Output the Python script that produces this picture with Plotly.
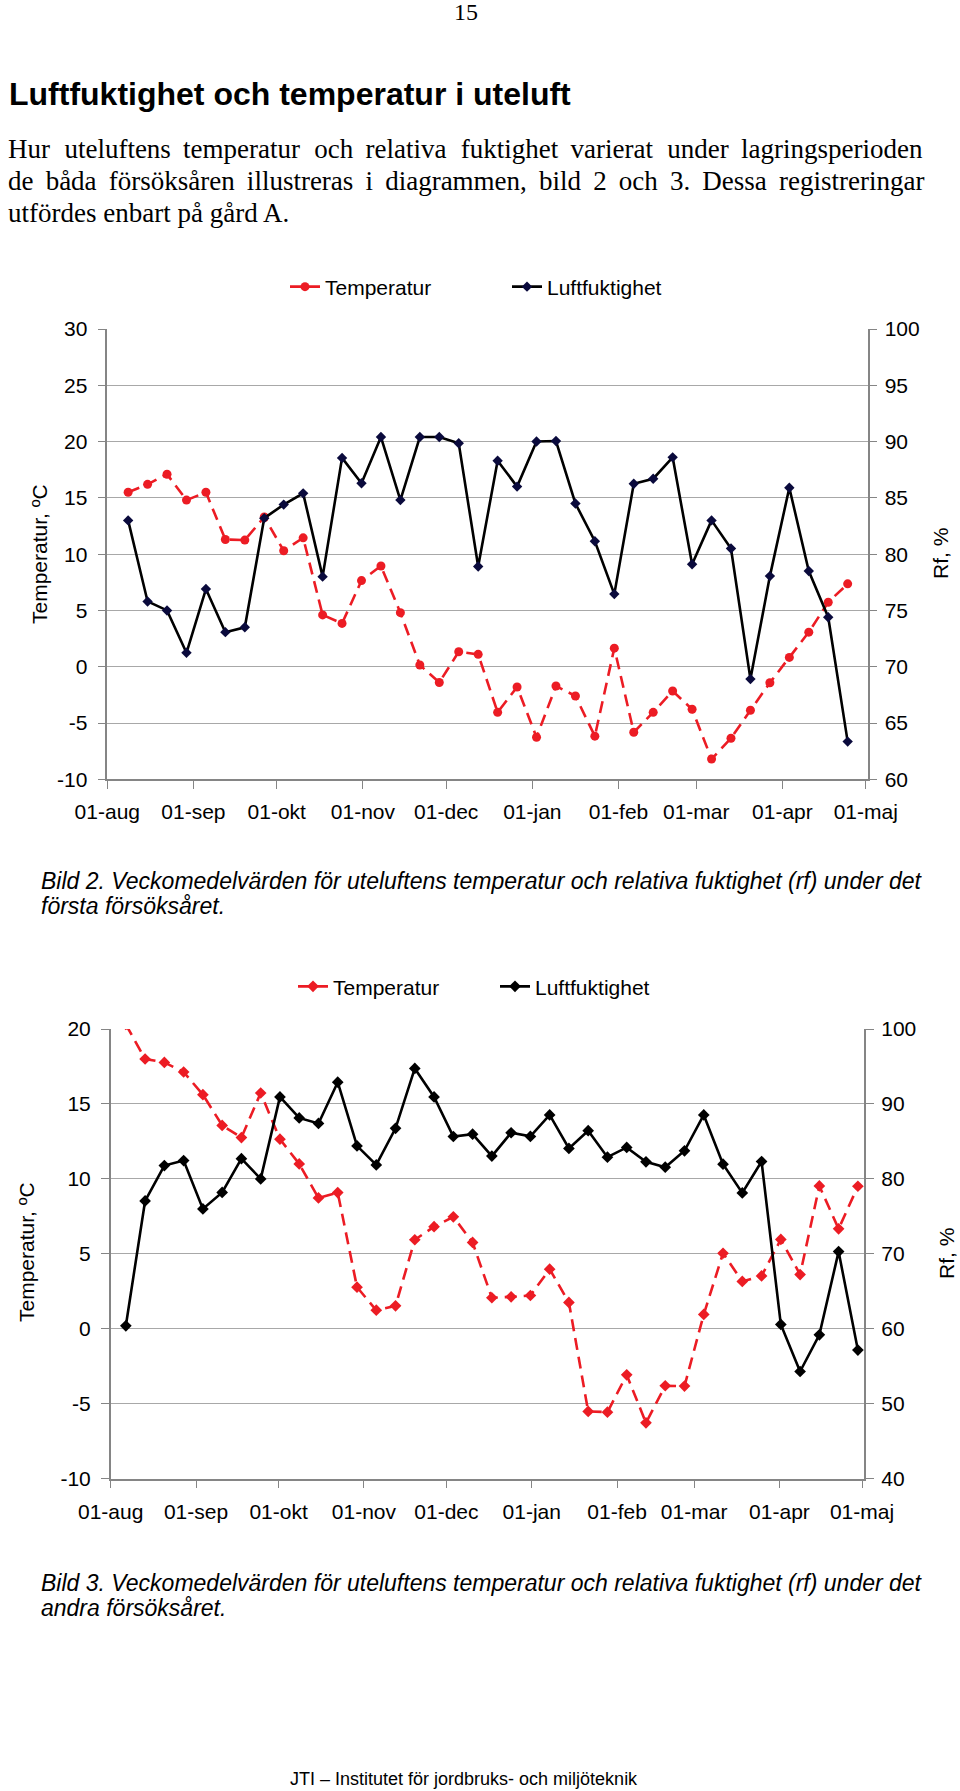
import pandas as pd
import plotly.graph_objects as go

# ---------------- data ----------------
month_labels = ["01-aug", "01-sep", "01-okt", "01-nov", "01-dec",
                "01-jan", "01-feb", "01-mar", "01-apr", "01-maj"]

# Bild 2 (first season) weekly means
start1 = "2005-08-08 12:00"
temp1 = [15.5, 16.2, 17.1, 14.8, 15.5, 11.3, 11.25, 13.3, 10.3, 11.45,
         4.6, 3.85, 7.65, 8.95, 4.8, 0.15, -1.4, 1.33, 1.1, -4.05,
         -1.8, -6.26, -1.71, -2.6, -6.17, 1.65, -5.82, -4.05, -2.16, -3.78,
         -8.2, -6.35, -3.87, -1.42, 0.83, 3.07, 5.73, 7.36]
rh1 = [83.0, 75.8, 75.0, 71.24, 76.9, 73.07, 73.5, 83.2, 84.4, 85.4,
       78.0, 88.55, 86.3, 90.4, 84.8, 90.4, 90.4, 89.85, 78.9, 88.3,
       86.0, 90.0, 90.05, 84.5, 81.15, 76.45, 86.25, 86.7, 88.6, 79.1,
       83.0, 80.5, 68.9, 78.05, 85.9, 78.5, 74.4, 63.35]
temp1_ticks = [-10, -5, 0, 5, 10, 15, 20, 25, 30]
temp1_labels = ["-10", "-5", "0", "5", "10", "15", "20", "25", "30"]
rh1_ticks = [60, 65, 70, 75, 80, 85, 90, 95, 100]

# Bild 3 (second season) weekly means
start2 = "2006-08-06 12:00"
temp2 = [20.3, 18.0, 17.77, 17.13, 15.62, 13.57, 12.76, 15.73, 12.65, 11.0,
         8.73, 9.09, 2.78, 1.24, 1.53, 5.94, 6.81, 7.47, 5.76, 2.07,
         2.13, 2.22, 3.98, 1.76, -5.51, -5.56, -3.07, -6.27, -3.8, -3.82,
         0.96, 5.04, 3.16, 3.53, 5.96, 3.62, 9.53, 6.67, 9.51]
rh2 = [60.4, 77.06, 81.78, 82.45, 76.0, 78.2, 82.7, 80.0, 90.94, 88.13,
       87.4, 92.9, 84.4, 81.87, 86.75, 94.74, 90.94, 85.66, 85.97, 83.04,
       86.16, 85.67, 88.53, 84.06, 86.43, 82.9, 84.2, 82.28, 81.56, 83.75,
       88.53, 81.96, 78.13, 82.32, 60.58, 54.3, 59.2, 70.3, 57.16]
temp2_ticks = [-10, -5, 0, 5, 10, 15, 20]
temp2_labels = ["-10", "-5", "0", "5", "10", "15", "20"]
rh2_ticks = [40, 50, 60, 70, 80, 90, 100]

dates1 = pd.date_range(start1, periods=len(temp1), freq="7D")
dates2 = pd.date_range(start2, periods=len(temp2), freq="7D")
ticks1 = pd.date_range("2005-08-01", "2006-05-01", freq="MS")
ticks2 = pd.date_range("2006-08-01", "2007-05-01", freq="MS")

# ---------------- style ----------------
W, H = 960, 1791
RED = "#ec1c24"
NAVY = "#0a0a3c"
GRID = "#a8a8a8"
AX = "#858585"
SANS = "Liberation Sans, Arial, sans-serif"
SERIF = "Liberation Serif, Times New Roman, serif"
TS = "\u2009"  # thin space used to imitate justified text
HS = "\u200a"  # hair space


def px(x):
    return x / W


def py(y):
    return 1 - y / H


fig = go.Figure()

fig.add_trace(go.Scatter(
    x=dates1, y=temp1, name="Temperatur", mode="lines+markers",
    line=dict(color=RED, width=2.6, dash="12px,7px"),
    marker=dict(symbol="circle", size=9, color=RED),
    xaxis="x", yaxis="y", legend="legend"))
fig.add_trace(go.Scatter(
    x=dates1, y=rh1, name="Luftfuktighet", mode="lines+markers",
    line=dict(color="black", width=2.6),
    marker=dict(symbol="diamond", size=8, color=NAVY),
    xaxis="x", yaxis="y2", legend="legend"))

fig.add_trace(go.Scatter(
    x=dates2, y=temp2, name="Temperatur", mode="lines+markers",
    line=dict(color=RED, width=2.6, dash="12px,7px"),
    marker=dict(symbol="diamond", size=9, color=RED),
    xaxis="x2", yaxis="y3", legend="legend2"))
fig.add_trace(go.Scatter(
    x=dates2, y=rh2, name="Luftfuktighet", mode="lines+markers",
    line=dict(color="black", width=2.6),
    marker=dict(symbol="diamond", size=9, color="black"),
    xaxis="x2", yaxis="y4", legend="legend2"))

tickfont = dict(family=SANS, size=21, color="black")

xcommon = dict(type="date", showgrid=False, showline=True, linecolor=AX, linewidth=1.5,
               ticks="outside", ticklen=8, tickcolor=AX, tickwidth=1.2,
               tickfont=tickfont, ticklabelstandoff=5, zeroline=False,
               automargin=False, fixedrange=True)
ycommon = dict(showline=True, linecolor=AX, linewidth=1.5, ticks="outside", ticklen=8,
               tickcolor=AX, tickwidth=1.2, tickfont=tickfont, zeroline=False,
               automargin=False, fixedrange=True, tickmode="array")

fig.update_layout(
    template="none",
    width=W, height=H, margin=dict(l=0, r=0, t=0, b=0, pad=0, autoexpand=False),
    paper_bgcolor="white", plot_bgcolor="white",
    font=dict(family=SANS, color="black"),
    xaxis=dict(domain=[px(107.3), px(867.7)], anchor="y",
               range=["2005-08-01", "2006-05-01 17:00"],
               tickvals=list(ticks1), ticktext=month_labels, **xcommon),
    yaxis=dict(domain=[py(779.3), py(329)], anchor="x", range=[-10, 30],
               tickvals=temp1_ticks, ticktext=temp1_labels, ticklabelstandoff=6,
               showgrid=True, gridcolor=GRID, gridwidth=1.2, **ycommon),
    yaxis2=dict(overlaying="y", side="right", anchor="x", range=[60, 100],
                tickvals=rh1_ticks, ticklabelstandoff=3, showgrid=False, **ycommon),
    xaxis2=dict(domain=[px(110.7), px(864.3)], anchor="y3",
                range=["2006-08-01", "2007-05-01 20:00"],
                tickvals=list(ticks2), ticktext=month_labels, **xcommon),
    yaxis3=dict(domain=[py(1478.7), py(1029)], anchor="x2", range=[-10, 20],
                tickvals=temp2_ticks, ticktext=temp2_labels, ticklabelstandoff=6,
                showgrid=True, gridcolor=GRID, gridwidth=1.2, **ycommon),
    yaxis4=dict(overlaying="y3", side="right", anchor="x2", range=[40, 100],
                tickvals=rh2_ticks, ticklabelstandoff=3, showgrid=False, **ycommon),
    legend=dict(orientation="h", x=px(285), xanchor="left", y=py(287), yanchor="middle",
                entrywidth=177, entrywidthmode="pixels", font=dict(family=SANS, size=21),
                bgcolor="rgba(0,0,0,0)", borderwidth=0),
    legend2=dict(orientation="h", x=px(293), xanchor="left", y=py(986.7), yanchor="middle",
                 entrywidth=157, entrywidthmode="pixels", font=dict(family=SANS, size=21),
                 bgcolor="rgba(0,0,0,0)", borderwidth=0),
)

ann = []


def text(t, x, y, size, family=SANS, xanchor="left", angle=0, weight="normal", style="normal"):
    ann.append(dict(text=t, x=px(x), y=py(y), xref="paper", yref="paper",
                    xanchor=xanchor, yanchor="middle", showarrow=False, textangle=angle,
                    font=dict(family=family, size=size, color="black", weight=weight, style=style)))


def justify(s, extra=False):
    words = s.split(" ")
    out = words[0]
    for i, w in enumerate(words[1:]):
        gap = " " + TS + (HS if (extra and i % 2 == 0) else "")
        out += gap + w
    return out


text("15", 466, 12, 24, family=SERIF, xanchor="center")
text("Luftfuktighet och temperatur i uteluft", 7, 94, 32, weight="bold")
text(justify("Hur uteluftens temperatur och relativa fuktighet varierat under lagringsperioden", True),
     6, 148.6, 27, family=SERIF)
text(justify("de båda försöksåren illustreras i diagrammen, bild 2 och 3. Dessa registreringar"),
     6, 180.6, 27, family=SERIF)
text("utfördes enbart på gård A.", 6, 212.6, 27, family=SERIF)

text("Temperatur, ºC", 40, 554, 21, xanchor="center", angle=-90)
text("Rf, %", 941, 554, 21, xanchor="center", angle=-90)
text("Temperatur, ºC", 26, 1252, 21, xanchor="center", angle=-90)
text("Rf, %", 946, 1254, 21, xanchor="center", angle=-90)

text("Bild 2. Veckomedelvärden för uteluftens temperatur och relativa fuktighet (rf) under det",
     39, 881, 23, style="italic")
text("första försöksåret.", 39, 906, 23, style="italic")
text("Bild 3. Veckomedelvärden för uteluftens temperatur och relativa fuktighet (rf) under det",
     39, 1583, 23, style="italic")
text("andra försöksåret.", 39, 1608, 23, style="italic")

text("JTI – Institutet för jordbruks- och miljöteknik", 464, 1779, 18, xanchor="center")

fig.update_layout(annotations=ann)

# remove the default page margin of the HTML body so the figure starts at (0, 0)
fig.write_html("out.html",
               config={"displayModeBar": False, "staticPlot": False},
               post_script="document.body.style.margin='0px';"
                           "document.body.style.padding='0px';"
                           "document.documentElement.style.overflow='hidden';")
